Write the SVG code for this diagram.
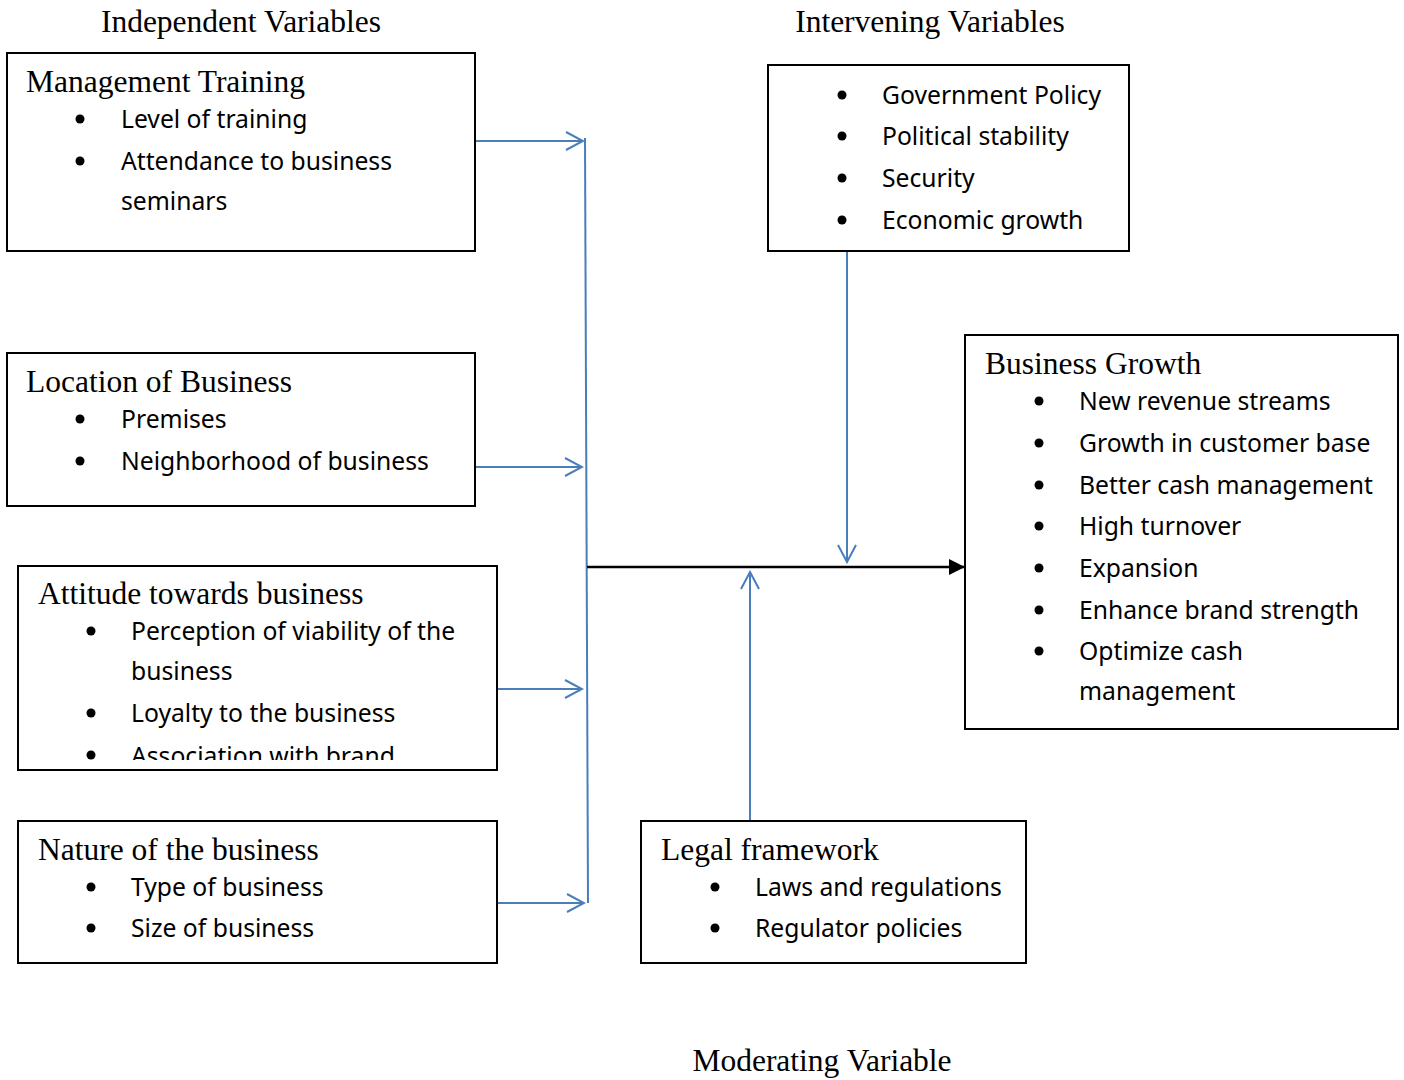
<svg xmlns="http://www.w3.org/2000/svg" width="1404" height="1080" viewBox="0 0 1404 1080">
<style>
.box{fill:#fff;stroke:#000;stroke-width:2}
.h{font-family:"Liberation Serif",serif;font-size:31.5px;fill:#000}
.t{font-family:"Noto Sans","Open Sans",sans-serif;font-size:24.7px;fill:#000}
.b{fill:#000}
.blue{stroke:#4a7ebb;stroke-width:2;fill:none}
</style>
<defs>
<marker id="open" markerWidth="20" markerHeight="20" refX="18" refY="10" orient="auto" markerUnits="userSpaceOnUse">
<path d="M1,1 L18,10 L1,19" fill="none" stroke="#4a7ebb" stroke-width="2"/>
</marker>
<marker id="fill" markerWidth="18" markerHeight="16" refX="16" refY="8" orient="auto" markerUnits="userSpaceOnUse">
<path d="M0,0 L16,8 L0,16 Z" fill="#000"/>
</marker>
<clipPath id="clipAtt"><rect x="18" y="566" width="479" height="194"/></clipPath>
</defs>
<rect width="1404" height="1080" fill="#fff"/>
<text class="h" x="241" y="32" text-anchor="middle">Independent Variables</text>
<text class="h" x="930" y="32" text-anchor="middle">Intervening Variables</text>
<text class="h" x="822" y="1071" text-anchor="middle">Moderating Variable</text>

<g id="connectors">
<line class="blue" x1="475" y1="141" x2="583" y2="141" marker-end="url(#open)"/>
<line class="blue" x1="475" y1="467" x2="582" y2="467" marker-end="url(#open)"/>
<line class="blue" x1="497" y1="689" x2="582" y2="689" marker-end="url(#open)"/>
<line class="blue" x1="497" y1="903" x2="584" y2="903" marker-end="url(#open)"/>
<line class="blue" x1="585" y1="138" x2="588" y2="903"/>
<line class="blue" x1="847" y1="251" x2="847" y2="562" marker-end="url(#open)"/>
<line class="blue" x1="750" y1="821" x2="750" y2="572" marker-end="url(#open)"/>
<line x1="587" y1="567" x2="965" y2="567" stroke="#000" stroke-width="2.5" marker-end="url(#fill)"/>
</g>

<g id="management">
<rect class="box" x="7" y="53" width="468" height="198"/>
<text class="h" x="26" y="92">Management Training</text>
<circle class="b" cx="80" cy="119" r="4.5"/><text class="t" x="121" y="128">Level of training</text>
<circle class="b" cx="80" cy="161" r="4.5"/><text class="t" x="121" y="170">Attendance to business</text>
<text class="t" x="121" y="210">seminars</text>
</g>

<g id="location">
<rect class="box" x="7" y="353" width="468" height="153"/>
<text class="h" x="26" y="392">Location of Business</text>
<circle class="b" cx="80" cy="419" r="4.5"/><text class="t" x="121" y="428">Premises</text>
<circle class="b" cx="80" cy="461" r="4.5"/><text class="t" x="121" y="470">Neighborhood of business</text>
</g>

<g id="attitude">
<rect class="box" x="18" y="566" width="479" height="204"/>
<text class="h" x="38" y="604">Attitude towards business</text>
<circle class="b" cx="91" cy="631" r="4.5"/><text class="t" x="131" y="640">Perception of viability of the</text>
<text class="t" x="131" y="680">business</text>
<circle class="b" cx="91" cy="713" r="4.5"/><text class="t" x="131" y="722">Loyalty to the business</text>
<g clip-path="url(#clipAtt)">
<circle class="b" cx="91" cy="755" r="4.5"/><text class="t" x="131" y="765">Association with brand</text>
</g>
</g>

<g id="nature">
<rect class="box" x="18" y="821" width="479" height="142"/>
<text class="h" x="38" y="860">Nature of the business</text>
<circle class="b" cx="91" cy="887" r="4.5"/><text class="t" x="131" y="896">Type of business</text>
<circle class="b" cx="91" cy="928" r="4.5"/><text class="t" x="131" y="937">Size of business</text>
</g>

<g id="intervening">
<rect class="box" x="768" y="65" width="361" height="186"/>
<circle class="b" cx="842" cy="95" r="4.5"/><text class="t" x="882" y="104">Government Policy</text>
<circle class="b" cx="842" cy="136" r="4.5"/><text class="t" x="882" y="145">Political stability</text>
<circle class="b" cx="842" cy="178" r="4.5"/><text class="t" x="882" y="187">Security</text>
<circle class="b" cx="842" cy="220" r="4.5"/><text class="t" x="882" y="229">Economic growth</text>
</g>

<g id="growth">
<rect class="box" x="965" y="335" width="433" height="394"/>
<text class="h" x="985" y="374">Business Growth</text>
<circle class="b" cx="1039" cy="401" r="4.5"/><text class="t" x="1079" y="410">New revenue streams</text>
<circle class="b" cx="1039" cy="443" r="4.5"/><text class="t" x="1079" y="452">Growth in customer base</text>
<circle class="b" cx="1039" cy="485" r="4.5"/><text class="t" x="1079" y="494">Better cash management</text>
<circle class="b" cx="1039" cy="526" r="4.5"/><text class="t" x="1079" y="535">High turnover</text>
<circle class="b" cx="1039" cy="568" r="4.5"/><text class="t" x="1079" y="577">Expansion</text>
<circle class="b" cx="1039" cy="610" r="4.5"/><text class="t" x="1079" y="619">Enhance brand strength</text>
<circle class="b" cx="1039" cy="651" r="4.5"/><text class="t" x="1079" y="660">Optimize cash</text>
<text class="t" x="1079" y="700">management</text>
</g>

<g id="legal">
<rect class="box" x="641" y="821" width="385" height="142"/>
<text class="h" x="661" y="860">Legal framework</text>
<circle class="b" cx="715" cy="887" r="4.5"/><text class="t" x="755" y="896">Laws and regulations</text>
<circle class="b" cx="715" cy="928" r="4.5"/><text class="t" x="755" y="937">Regulator policies</text>
</g>
</svg>
